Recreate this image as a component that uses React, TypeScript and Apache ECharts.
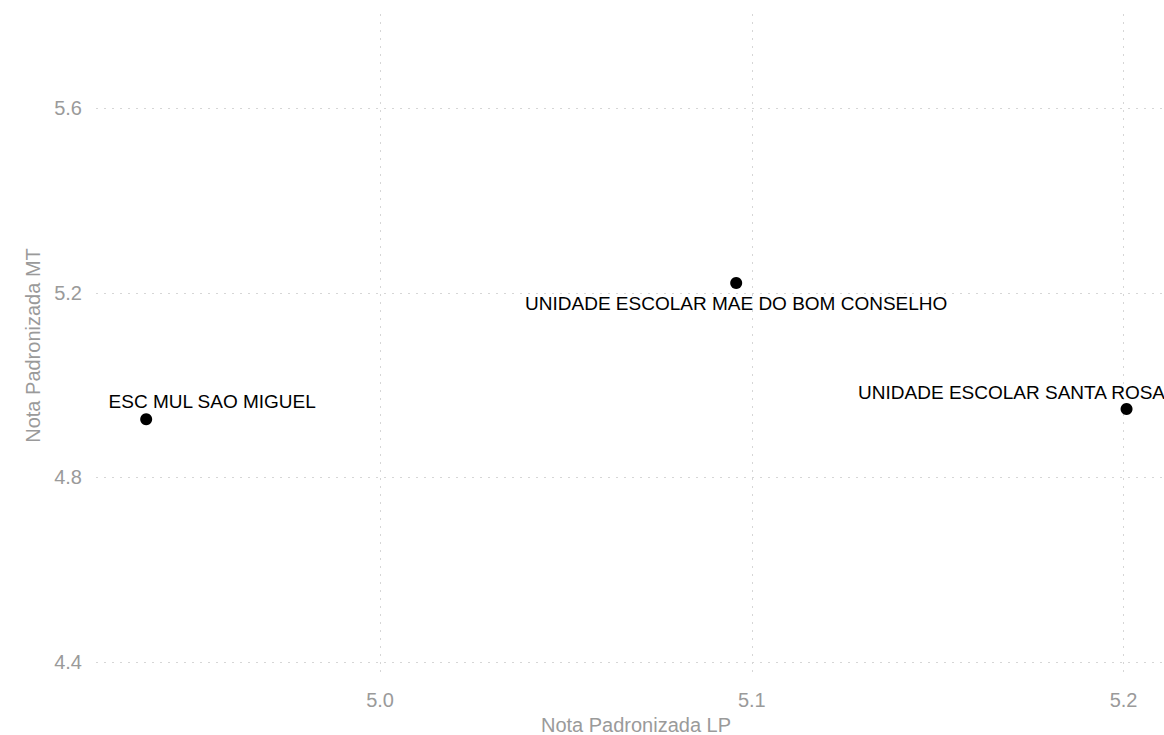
import React, { useEffect, useRef } from "react";
import * as echarts from "echarts";

const schoolNames = [
  "ESC MUL SAO MIGUEL",
  "UNIDADE ESCOLAR MAE DO BOM CONSELHO",
  "UNIDADE ESCOLAR SANTA ROSA",
];
const notaLP = [4.9371, 5.0958, 5.2008];
const notaMT = [4.9257, 5.2212, 4.948];
const xTicks = [5.0, 5.1, 5.2];
const yTicks = [4.4, 4.8, 5.2, 5.6];

const labelOffsets: [number, number][] = [
  [66, -18],
  [0, 20],
  [-115, -17],
];

const FONT = "'Liberation Sans', Arial, Helvetica, sans-serif";
const GRAY = "#9a9a9a";

export default function App() {
  const ref = useRef<HTMLDivElement>(null);
  useEffect(() => {
    if (!ref.current) return;
    const chart = echarts.init(ref.current, undefined, { renderer: "svg" });
    chart.setOption({
      animation: false,
      backgroundColor: "#ffffff",
      grid: {
        left: 96,
        right: 0,
        top: 14,
        bottom: 58,
        containLabel: false,
        outerBoundsMode: "none",
      },
      xAxis: {
        type: "value",
        min: 4.9236,
        max: 5.2141,
        name: "Nota Padronizada LP",
        nameLocation: "middle",
        nameGap: 36,
        nameTextStyle: { color: GRAY, fontSize: 20, fontFamily: FONT },
        axisLine: { show: false },
        axisTick: { show: false, customValues: xTicks },
        axisLabel: {
          customValues: xTicks,
          color: GRAY,
          fontSize: 20,
          fontFamily: FONT,
          margin: 13,
          formatter: (v: number) => v.toFixed(1),
        },
        splitLine: { show: true, lineStyle: { color: "#d6d6d6", width: 1, type: [2, 6] } },
      },
      yAxis: {
        type: "value",
        min: 4.367,
        max: 5.8045,
        name: "Nota Padronizada MT",
        nameLocation: "middle",
        nameGap: 52,
        nameRotate: 90,
        nameTextStyle: { color: GRAY, fontSize: 20, fontFamily: FONT },
        axisLine: { show: false },
        axisTick: { show: false, customValues: yTicks },
        axisLabel: {
          customValues: yTicks,
          color: GRAY,
          fontSize: 20,
          fontFamily: FONT,
          margin: 14,
          formatter: (v: number) => v.toFixed(1),
        },
        splitLine: { show: true, lineStyle: { color: "#d6d6d6", width: 1, type: [2, 6] } },
      },
      series: [
        {
          type: "scatter",
          symbol: "circle",
          symbolSize: 12,
          itemStyle: { color: "#000000", opacity: 1 },
          clip: false,
          data: schoolNames.map((n, i) => ({
            name: n,
            value: [notaLP[i], notaMT[i]],
            label: {
              show: true,
              position: "inside",
              offset: labelOffsets[i],
              formatter: n,
              color: "#000000",
              opacity: 1,
              fontSize: 19,
              fontFamily: FONT,
            },
          })),
        },
      ],
    });
    return () => chart.dispose();
  }, []);
  return (
    <div
      style={{
        position: "absolute",
        left: 0,
        top: 0,
        width: 1164,
        height: 735,
        overflow: "hidden",
      }}
    >
      <div ref={ref} style={{ width: 1176, height: 735 }} />
    </div>
  );
}
